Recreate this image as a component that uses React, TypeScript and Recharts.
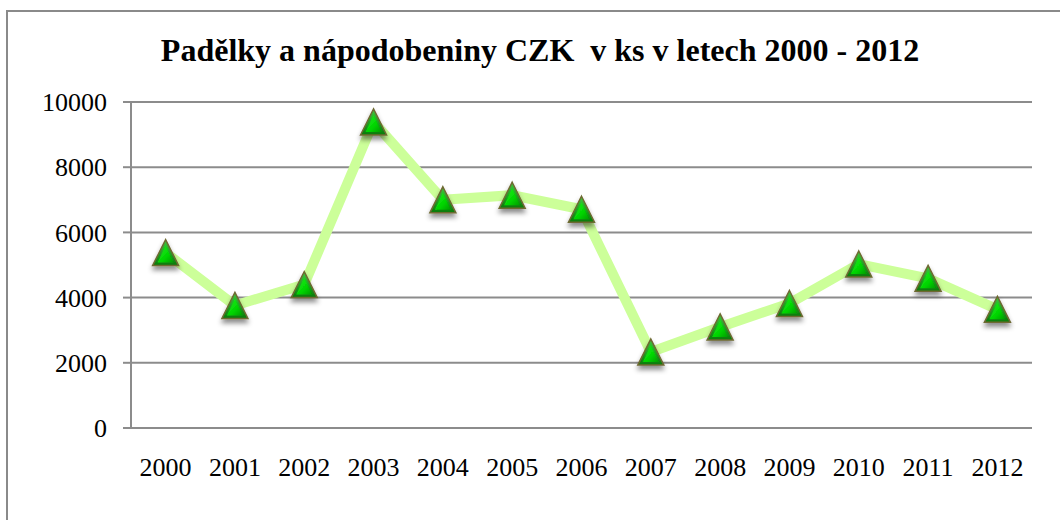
import React from 'react';
import { LineChart, Line, XAxis, YAxis, CartesianGrid } from 'recharts';

const YEARS = ['2000', '2001', '2002', '2003', '2004', '2005', '2006', '2007', '2008', '2009', '2010', '2011', '2012'];
const PADELKY = [5380, 3760, 4400, 9390, 7000, 7140, 6710, 2330, 3100, 3820, 5030, 4590, 3640];
const Y_TICKS = [0, 2000, 4000, 6000, 8000, 10000];

const TITLE = 'Padělky a nápodobeniny CZK  v ks v letech 2000 - 2012';
const FONT = '"Liberation Serif", "Times New Roman", serif';

const data = YEARS.map((rok, i) => ({ rok, pocet: PADELKY[i] }));

function TriangleDot(props: any) {
  const { cx, cy, index } = props;
  if (cx == null || cy == null) return null;
  const h = 13;
  const w = 13;
  const outer = `M${cx},${cy - h} L${cx + w},${cy + h} L${cx - w},${cy + h} Z`;
  const inner = `M${cx},${cy - h + 6} L${cx + w - 5},${cy + h - 3} L${cx - w + 5},${cy + h - 3} Z`;
  return (
    <g key={`dot-${index}`} filter="url(#dotShadow)">
      <path d={outer} fill="url(#triEdge)" stroke="#6e6a32" strokeWidth={1.5} strokeLinejoin="miter" />
      <path d={inner} fill="url(#triFace)" />
    </g>
  );
}

export default function App() {
  return (
    <div style={{ position: 'absolute', left: 0, top: 0, width: 1060, height: 520, overflow: 'hidden', background: '#fff', fontFamily: FONT }}>
      <div style={{ position: 'absolute', left: 6, top: 10, width: 1100, height: 600, borderLeft: '2px solid #8a8a8a', borderTop: '2px solid #8a8a8a' }} />
      <div
        style={{
          position: 'absolute',
          left: 0,
          width: 1080,
          top: 30,
          textAlign: 'center',
          fontSize: 32,
          fontWeight: 'bold',
          whiteSpace: 'pre',
          color: '#000',
          lineHeight: '40px',
        }}
      >
        {TITLE}
      </div>
      <div style={{ position: 'absolute', left: 0, top: 0 }}>
        <LineChart width={1060} height={520} data={data} margin={{ top: 102, right: 28, left: 0, bottom: 0 }}>
          <defs>
            <linearGradient id="triEdge" x1="0" y1="0" x2="0" y2="1">
              <stop offset="0%" stopColor="#3fc83f" />
              <stop offset="100%" stopColor="#0a7a0a" />
            </linearGradient>
            <linearGradient id="triFace" x1="0" y1="0" x2="1" y2="1">
              <stop offset="0%" stopColor="#22f222" />
              <stop offset="60%" stopColor="#00d400" />
              <stop offset="100%" stopColor="#009a00" />
            </linearGradient>
            <filter id="dotShadow" x="-50%" y="-50%" width="200%" height="200%">
              <feDropShadow dx="0" dy="4" stdDeviation="2.5" floodColor="#000" floodOpacity="0.45" />
            </filter>
          </defs>
          <CartesianGrid vertical={false} stroke="#8c8c8c" strokeWidth={2} />
          <XAxis
            dataKey="rok"
            axisLine={false}
            tickLine={false}
            tickSize={0}
            tickMargin={30}
            height={92}
            padding={{ left: 34.6, right: 34.6 }}
            interval={0}
            tick={{ fill: '#000', fontSize: 26, fontFamily: FONT }}
          />
          <YAxis
            domain={[0, 10000]}
            ticks={Y_TICKS}
            width={131}
            axisLine={{ stroke: '#8c8c8c', strokeWidth: 2 }}
            tickLine={{ stroke: '#8c8c8c', strokeWidth: 2 }}
            tickSize={8}
            tickMargin={16}
            interval={0}
            tick={{ fill: '#000', fontSize: 26, fontFamily: FONT }}
          />
          <Line
            type="linear"
            dataKey="pocet"
            stroke="#ccff99"
            strokeWidth={10}
            strokeLinejoin="round"
            dot={<TriangleDot />}
            activeDot={false}
            isAnimationActive={false}
          />
        </LineChart>
      </div>
    </div>
  );
}
